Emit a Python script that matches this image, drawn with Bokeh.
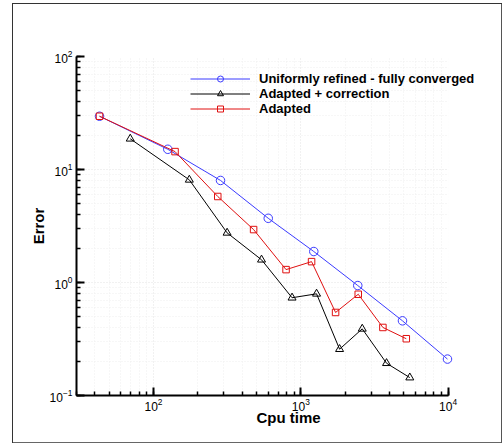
from bokeh.plotting import figure
from bokeh.models import Range1d, BoxAnnotation, Legend, LegendItem, LogTicker, InlineStyleSheet
from bokeh.embed import file_html
from bokeh.resources import INLINE

# Data
uni_x = [43, 125, 285, 601, 1225, 2436, 4900, 9900]
uni_y = [29.6, 15.1, 8.0, 3.7, 1.88, 0.94, 0.458, 0.21]

corr_x = [69.5, 175, 316, 541, 872, 1279, 1833, 2612, 3819, 5495]
corr_y = [18.7, 8.1, 2.75, 1.59, 0.733, 0.794, 0.257, 0.389, 0.193, 0.144]

adap_x = [43, 140, 273, 478, 794, 1183, 1722, 2454, 3608, 5200]
adap_y = [29.6, 14.4, 5.77, 2.94, 1.30, 1.53, 0.543, 0.787, 0.40, 0.318]

labels = ["Uniformly refined - fully converged", "Adapted + correction", "Adapted"]

FONT = "Liberation Sans"
X_MIN, X_MAX_AXIS, X_VIEW_MAX = 30, 10000, 22680

p = figure(width=502, height=444, x_axis_type="log", y_axis_type="log",
           x_range=Range1d(X_MIN, X_VIEW_MAX), y_range=Range1d(0.1, 100),
           output_backend="svg", toolbar_location=None,
           min_border_left=76, min_border_right=2, min_border_top=56, min_border_bottom=49)

# outer frame drawn as CSS background behind a transparent border area
frame_css = (":host { background-color: white; background-repeat: no-repeat; "
             "background-image: linear-gradient(#333,#333), linear-gradient(#333,#333), "
             "linear-gradient(#555,#555), linear-gradient(#666,#666); "
             "background-position: 12px 3px, 12px 3px, 501px 3px, 12px 442px; "
             "background-size: 1px 440px, 490px 1px, 1px 440px, 490px 1px; }")
p.stylesheets = [InlineStyleSheet(css=frame_css)]
p.outline_line_color = None
p.background_fill_color = "white"
p.border_fill_color = None
p.border_fill_alpha = 0

for ax in (p.xaxis[0], p.yaxis[0]):
    ax.axis_line_width = 2
    ax.axis_line_color = "black"
    ax.major_tick_in = 8
    ax.major_tick_out = 0
    ax.minor_tick_in = 4
    ax.minor_tick_out = 0
    ax.major_tick_line_width = 2
    ax.minor_tick_line_width = 1.5
    ax.major_label_text_font = FONT
    ax.major_label_text_font_size = "12px"
    ax.major_label_text_color = "black"
    ax.axis_label_text_font = FONT
    ax.axis_label_text_font_style = "bold"
    ax.axis_label_text_font_size = "15px"
    ax.axis_label_text_color = "black"
    ax.ticker = LogTicker(num_minor_ticks=10, mantissas=[1])

p.xaxis.bounds = (X_MIN, X_MAX_AXIS)
p.xaxis.axis_label = "Cpu time"
p.yaxis.axis_label = "Error"
p.xaxis.major_label_standoff = 2
p.yaxis.major_label_standoff = 4
p.xaxis.axis_label_standoff = -5
p.yaxis.axis_label_standoff = 0

for g in (p.xgrid[0], p.ygrid[0]):
    g.grid_line_color = "#efefef"
    g.grid_line_dash = "1 2"
    g.minor_grid_line_color = "#efefef"
    g.minor_grid_line_dash = "1 2"
p.xgrid.bounds = (X_MIN, X_MAX_AXIS)

# hide grid beyond the end of the x axis
p.add_layout(BoxAnnotation(left=X_MAX_AXIS, right=1e7, bottom=1e-3, top=1e4,
                           fill_color="white", fill_alpha=1,
                           line_color=None, line_alpha=0, level="underlay"))

blue = "#3b3bff"
red = "#e01010"
black = "black"

r1 = p.line(uni_x, uni_y, line_color=blue, line_width=1)
m1 = p.scatter(uni_x, uni_y, marker="circle", size=8.5, fill_color=None, line_color=blue, line_width=1)
r2 = p.line(corr_x, corr_y, line_color=black, line_width=1)
m2 = p.scatter(corr_x, corr_y, marker="triangle", size=8, fill_color=None, line_color=black, line_width=1)
r3 = p.line(adap_x, adap_y, line_color=red, line_width=1)
m3 = p.scatter(adap_x, adap_y, marker="square", size=6.5, fill_color=None, line_color=red, line_width=1)

legend = Legend(items=[LegendItem(label=labels[0], renderers=[r1, m1]),
                       LegendItem(label=labels[1], renderers=[r2, m2]),
                       LegendItem(label=labels[2], renderers=[r3, m3])],
                location=(114, 279), border_line_color=None, background_fill_alpha=0,
                padding=0, margin=0, spacing=0, glyph_width=60, glyph_height=15,
                label_height=15, label_standoff=9, label_text_font=FONT,
                label_text_font_style="bold", label_text_font_size="13px",
                label_text_color="black")
p.add_layout(legend, "center")

open("out.html", "w").write(file_html(p, INLINE))
